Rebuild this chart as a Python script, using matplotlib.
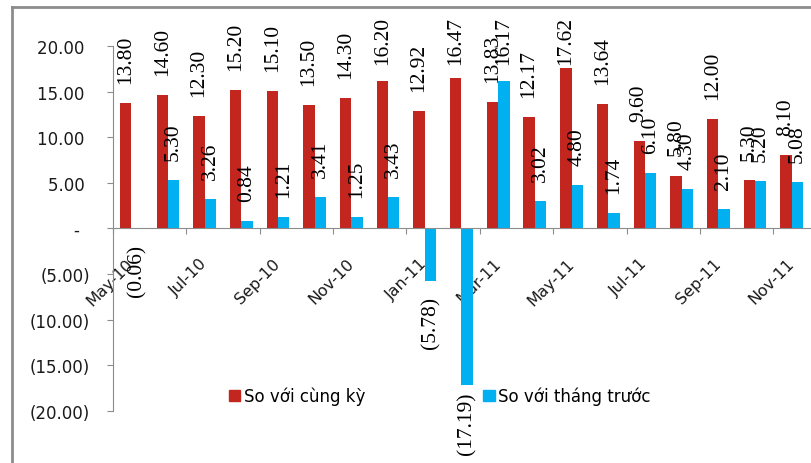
import numpy as np
import matplotlib.pyplot as plt
from matplotlib.lines import Line2D
from matplotlib.patches import Patch
from matplotlib.ticker import FuncFormatter, FixedLocator

months = ['May-10', 'Jun-10', 'Jul-10', 'Aug-10', 'Sep-10', 'Oct-10', 'Nov-10',
          'Dec-10', 'Jan-11', 'Feb-11', 'Mar-11', 'Apr-11', 'May-11', 'Jun-11',
          'Jul-11', 'Aug-11', 'Sep-11', 'Oct-11', 'Nov-11']
yoy = [13.80, 14.60, 12.30, 15.20, 15.10, 13.50, 14.30, 16.20, 12.92, 16.47,
       13.83, 12.17, 17.62, 13.64, 9.60, 5.80, 12.00, 5.30, 8.10]
mom = [-0.06, 5.30, 3.26, 0.84, 1.21, 3.41, 1.25, 3.43, -5.78, -17.19,
       16.17, 3.02, 4.80, 1.74, 6.10, 4.30, 2.10, 5.20, 5.08]
series_names = ['So với cùng kỳ', 'So với tháng trước']

red = '#C3261F'
blue = '#00B0F0'
gray = '#8C8C8C'


def fmt_label(v):
    if v < 0:
        return '({:.2f})'.format(-v)
    return '{:.2f}'.format(v)


def fmt_axis(v, pos):
    if abs(v) < 1e-9:
        return '-  '
    if v < 0:
        return '({:.2f})'.format(-v)
    return '{:.2f} '.format(v)


fig = plt.figure(figsize=(8.11, 4.64), dpi=100)
ax = fig.add_axes([0.1393, 0.1121, 0.8594, 0.7866])

x = np.arange(len(months))
w = 0.31
ax.bar(x - w / 2, yoy, w, color=red, zorder=2)
ax.bar(x + w / 2, mom, w, color=blue, zorder=2)

# data labels, kept inside the chart area like excel does
for series, dx in ((yoy, -w / 2), (mom, w / 2)):
    for xi, v in zip(x, series):
        if v >= 0:
            ax.text(xi + dx, min(v + 2.2, 18.0), fmt_label(v), rotation=90,
                    ha='center', va='bottom', fontsize=15.5,
                    family='Liberation Serif', color='black')
        else:
            ax.text(xi + dx, max(v - 1.6, -17.9), fmt_label(v), rotation=90,
                    ha='center', va='top', fontsize=15.5,
                    family='Liberation Serif', color='black')

ax.set_xlim(-0.5, len(months) - 0.5)
ax.set_ylim(-20, 20)
ax.set_yticks(np.arange(-20, 21, 5))
ax.yaxis.set_major_formatter(FuncFormatter(fmt_axis))

ax.spines['top'].set_visible(False)
ax.spines['right'].set_visible(False)
ax.spines['bottom'].set_position(('data', 0))
ax.spines['bottom'].set_color(gray)
ax.spines['left'].set_color(gray)

ax.xaxis.set_major_locator(FixedLocator(np.arange(-0.5, len(months) - 1, 2)))
ax.xaxis.set_minor_locator(FixedLocator(x[::2]))
ax.set_xticklabels([], minor=False)
ax.set_xticklabels(months[::2], minor=True, rotation=45, ha='right',
                   va='center', rotation_mode='anchor', fontsize=11.5)
ax.tick_params(axis='x', which='major', direction='out', length=4.5, color=gray)
ax.tick_params(axis='x', which='minor', length=0, pad=23, colors='#1a1a1a')
ax.tick_params(axis='y', direction='out', length=4.5, color=gray, pad=12,
               labelsize=12, labelcolor='#1a1a1a')

handles = [Patch(color=red), Patch(color=blue)]
fig.legend(handles, series_names, loc='center left', bbox_to_anchor=(0.282, 0.144),
           ncol=2, frameon=False, fontsize=12, handlelength=0.7, handleheight=0.7,
           handletextpad=0.2, columnspacing=7.1, borderpad=0, borderaxespad=0)

# chart area border (left and top edges only are visible)
fig.add_artist(Line2D([12 / 811, 12 / 811], [0, 1 - 8 / 464], transform=fig.transFigure,
                      color=gray, lw=2))
fig.add_artist(Line2D([12 / 811, 1], [1 - 8 / 464, 1 - 8 / 464], transform=fig.transFigure,
                      color=gray, lw=2))

fig.savefig('out.png', dpi=100)
